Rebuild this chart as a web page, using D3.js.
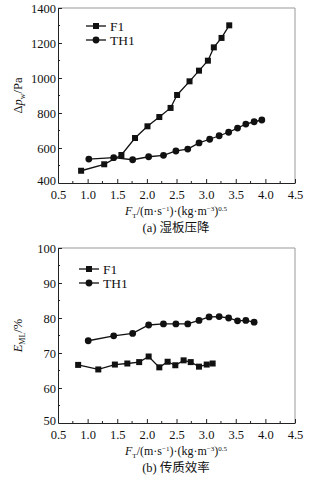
<!DOCTYPE html>
<html>
<head>
<meta charset="utf-8">
<script src="https://cdn.jsdelivr.net/npm/d3@7"></script>
<style>
  body { margin: 0; background: #fff; }
  svg text { font-family: "Liberation Serif", "Times New Roman", "DejaVu Serif", serif; fill: #111; }
  .cap { font-family: "Liberation Serif", "Noto Sans CJK SC", serif; }
</style>
</head>
<body>
<div id="chart"></div>
<script>
const seriesNames = ['F1', 'TH1'];

const dpF1x = [0.89, 1.28, 1.57, 1.80, 2.01, 2.21, 2.40, 2.51, 2.72, 2.88, 3.03, 3.13, 3.26, 3.39];
const dpF1y = [470, 507, 560, 657, 724, 777, 829, 903, 981, 1042, 1099, 1175, 1229, 1301];
const dpTH1x = [1.02, 1.44, 1.76, 2.03, 2.28, 2.49, 2.69, 2.88, 3.06, 3.22, 3.38, 3.53, 3.67, 3.81, 3.94];
const dpTH1y = [537, 545, 533, 550, 558, 583, 594, 629, 650, 670, 690, 714, 737, 750, 760];

const efF1x = [0.84, 1.18, 1.46, 1.67, 1.87, 2.03, 2.21, 2.35, 2.48, 2.62, 2.74, 2.88, 3.01, 3.11];
const efF1y = [66.6, 65.3, 66.7, 67.0, 67.4, 69.0, 65.9, 67.5, 66.5, 67.9, 67.4, 66.1, 66.7, 67.0];
const efTH1x = [1.01, 1.44, 1.76, 2.03, 2.28, 2.49, 2.69, 2.88, 3.05, 3.22, 3.38, 3.53, 3.67, 3.81];
const efTH1y = [73.5, 74.9, 75.6, 78.0, 78.3, 78.3, 78.3, 79.3, 80.3, 80.4, 80.0, 79.2, 79.3, 78.8];

const xTicks = [0.5, 1.0, 1.5, 2.0, 2.5, 3.0, 3.5, 4.0, 4.5];
const dpTicks = [400, 600, 800, 1000, 1200, 1400];
const efTicks = [50, 60, 70, 80, 90, 100];

const zip = (xs, ys) => xs.map((x, i) => ({ x, y: ys[i] }));

const serif = '"Liberation Serif", "Times New Roman", serif';

const svg = d3.select('#chart').append('svg')
    .attr('width', 322)
    .attr('height', 484)
    .attr('font-family', serif);

function panel(opts) {
    const { top, bottom, yDomain, yTicks, yMinor, series, legendX, legendY, caption, yLabel } = opts;
    const left = 58, right = 295;

    const x = d3.scaleLinear().domain([0.5, 4.5]).range([left, right]);
    const y = d3.scaleLinear().domain(yDomain).range([bottom, top]);

    const g = svg.append('g');

    // frame: top/right in gray
    g.append('line').attr('x1', left).attr('x2', right).attr('y1', top).attr('y2', top)
        .attr('stroke', '#999').attr('stroke-width', 1);
    g.append('line').attr('x1', right).attr('x2', right).attr('y1', top).attr('y2', bottom)
        .attr('stroke', '#999').attr('stroke-width', 1);

    // bottom axis, inward ticks
    const xMinor = d3.range(0.75, 4.5, 0.5);
    const xa = g.append('g').attr('transform', `translate(0,${bottom})`)
        .call(d3.axisBottom(x).tickValues(xTicks).tickFormat(d3.format('.1f')).tickSizeInner(-4).tickSizeOuter(0).tickPadding(7));
    xa.selectAll('.tick').filter(d => d === 0.5).select('line').remove();
    g.append('g').selectAll('line').data(xMinor).join('line')
        .attr('x1', d => x(d)).attr('x2', d => x(d))
        .attr('y1', bottom).attr('y2', bottom - 2)
        .attr('stroke', '#222');

    // left axis, inward ticks
    const ya = g.append('g').attr('transform', `translate(${left},0)`)
        .call(d3.axisLeft(y).tickValues(yTicks).tickFormat(d3.format('d')).tickSizeInner(-4).tickSizeOuter(0).tickPadding(2));
    ya.selectAll('.tick').filter((d, i) => i === 0).select('line').remove();
    g.append('g').selectAll('line').data(yMinor).join('line')
        .attr('x1', left).attr('x2', left + 2)
        .attr('y1', d => y(d)).attr('y2', d => y(d))
        .attr('stroke', '#222');

    [xa, ya].forEach(a => {
        a.attr('font-family', serif).attr('font-size', 12.5);
        a.select('.domain').attr('stroke', '#222');
        a.selectAll('.tick line').attr('stroke', '#222');
        a.selectAll('text').attr('fill', '#111');
    });
    ya.selectAll('text').attr('dy', '0.33em');
    ya.selectAll('.tick').filter((d, i) => i === 0).select('text').attr('dy', '0.15em');

    // series
    const line = d3.line().x(d => x(d.x)).y(d => y(d.y));
    series.forEach(s => {
        g.append('path').datum(s.data)
            .attr('fill', 'none').attr('stroke', '#111').attr('stroke-width', 1.3)
            .attr('d', line);
        drawMarkers(g, s.data.map(d => [x(d.x), y(d.y)]), s.shape);
    });

    // legend
    series.forEach((s, i) => {
        const ly = legendY + i * 14;
        g.append('line').attr('x1', legendX).attr('x2', legendX + 20)
            .attr('y1', ly).attr('y2', ly).attr('stroke', '#111').attr('stroke-width', 1.3);
        drawMarkers(g, [[legendX + 10, ly]], s.shape);
        g.append('text').attr('x', legendX + 24).attr('y', ly).attr('dy', '0.35em')
            .attr('font-size', 13.5).text(s.name);
    });

    // x label
    const xl = g.append('text').attr('x', 176).attr('y', bottom + 32)
        .attr('text-anchor', 'middle').attr('font-size', 12);
    xl.append('tspan').attr('font-style', 'italic').text('F');
    xl.append('tspan').attr('dy', 3).attr('font-size', 7).text('T');
    xl.append('tspan').attr('dy', -3).text('/(m·s');
    xl.append('tspan').attr('dy', -4).attr('font-size', 7).text('−1');
    xl.append('tspan').attr('dy', 4).text(')·(kg·m');
    xl.append('tspan').attr('dy', -4).attr('font-size', 7).text('−3');
    xl.append('tspan').attr('dy', 4).text(')');
    xl.append('tspan').attr('dy', -4).attr('font-size', 7).text('0.5');

    // y label
    const yl = g.append('text')
        .attr('transform', `translate(22,${(top + bottom) / 2}) rotate(-90)`)
        .attr('text-anchor', 'middle').attr('font-size', 12.5);
    yLabel(yl);

    // caption
    g.append('text').attr('class', 'cap').attr('x', 176).attr('y', bottom + 49)
        .attr('text-anchor', 'middle').attr('font-size', 12.5).text(caption);
}

function drawMarkers(g, pts, shape) {
    if (shape === 'square') {
        g.append('g').selectAll('rect').data(pts).join('rect')
            .attr('x', d => d[0] - 3).attr('y', d => d[1] - 3)
            .attr('width', 6).attr('height', 6).attr('fill', '#111');
    } else {
        g.append('g').selectAll('circle').data(pts).join('circle')
            .attr('cx', d => d[0]).attr('cy', d => d[1])
            .attr('r', 3.4).attr('fill', '#111');
    }
}

panel({
    top: 8, bottom: 183,
    yDomain: [400, 1400], yTicks: dpTicks, yMinor: d3.range(500, 1400, 200),
    series: [
        { name: seriesNames[0], shape: 'square', data: zip(dpF1x, dpF1y) },
        { name: seriesNames[1], shape: 'circle', data: zip(dpTH1x, dpTH1y) }
    ],
    legendX: 86, legendY: 26,
    caption: '(a) 湿板压降',
    yLabel: t => {
        t.append('tspan').text('Δ');
        t.append('tspan').attr('font-style', 'italic').text('p');
        t.append('tspan').attr('dy', 3).attr('font-size', 8).text('w');
        t.append('tspan').attr('dy', -3).text('/Pa');
    }
});

panel({
    top: 248, bottom: 423,
    yDomain: [50, 100], yTicks: efTicks, yMinor: d3.range(55, 100, 10),
    series: [
        { name: seriesNames[0], shape: 'square', data: zip(efF1x, efF1y) },
        { name: seriesNames[1], shape: 'circle', data: zip(efTH1x, efTH1y) }
    ],
    legendX: 79, legendY: 269,
    caption: '(b) 传质效率',
    yLabel: t => {
        t.append('tspan').attr('font-style', 'italic').text('E');
        t.append('tspan').attr('dy', 3).attr('font-size', 8).text('ML');
        t.append('tspan').attr('dy', -3).text('/%');
    }
});
</script>
</body>
</html>
